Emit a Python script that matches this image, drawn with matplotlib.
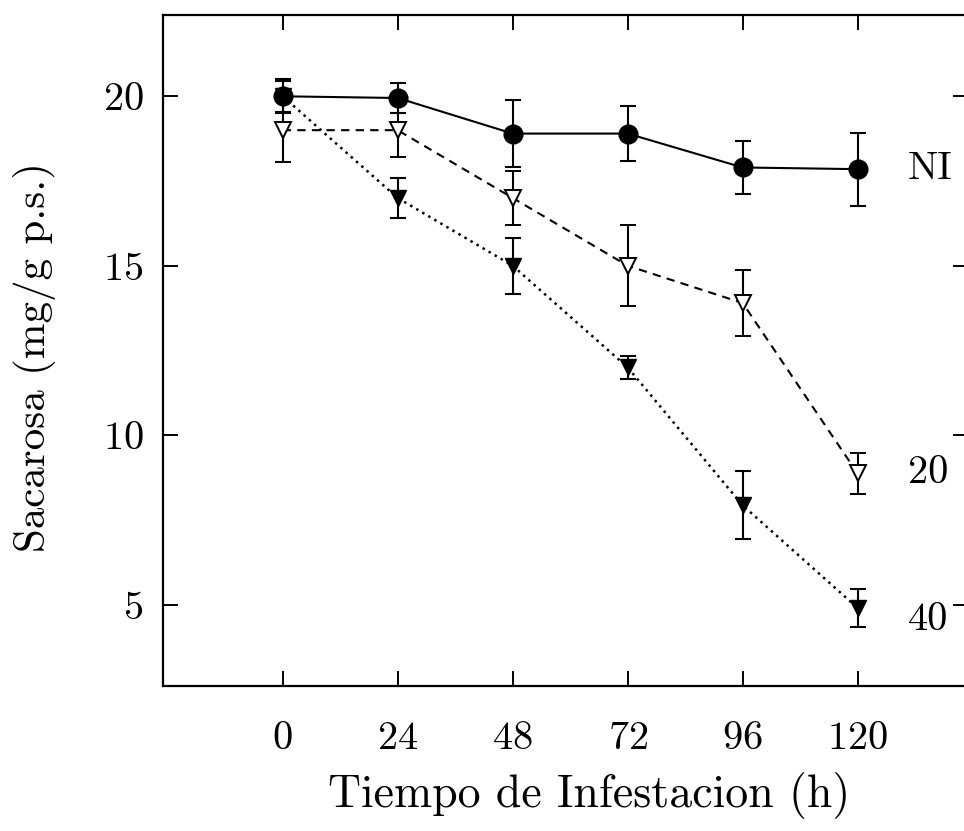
import matplotlib
matplotlib.use('Agg')
import matplotlib.pyplot as plt

plt.rcParams['font.family'] = ['cmr10', 'DejaVu Serif']
plt.rcParams['axes.formatter.use_mathtext'] = True
plt.rcParams['mathtext.fontset'] = 'cm'

# hours of infestation
hours = [0, 24, 48, 72, 96, 120]

# no infestation (NI)
ni_mean = [20.0, 19.95, 18.9, 18.9, 17.9, 17.85]
ni_err = [0.5, 0.45, 1.0, 0.8, 0.78, 1.08]

# 20 aphids
a20_mean = [19.0, 19.0, 17.0, 15.0, 13.9, 8.87]
a20_err = [0.95, 0.8, 0.8, 1.2, 0.98, 0.6]

# 40 aphids
a40_mean = [20.0, 17.0, 15.0, 12.0, 7.93, 4.9]
a40_err = [0.45, 0.6, 0.82, 0.33, 1.0, 0.57]

series_labels = ['NI', '20', '40']
label_y = [17.85, 8.87, 4.55]

xticks = [0, 24, 48, 72, 96, 120]
yticks = [5, 10, 15, 20]

fig = plt.figure(figsize=(9.64, 8.31), dpi=100)
ax = fig.add_axes([0.169, 0.1745, 0.835, 0.8075])

lw = 1.5
ax.errorbar(hours, a40_mean, yerr=a40_err, color='black', ls=':', lw=1.8,
            dashes=(1, 1.8), marker='v', ms=11, mfc='black', mec='black',
            capsize=6, elinewidth=lw, capthick=lw, zorder=2)
ax.errorbar(hours, a20_mean, yerr=a20_err, color='black', ls='--', lw=lw,
            dashes=(4, 3), marker='v', ms=11.5, mfc='white', mec='black',
            mew=1.4, capsize=6, elinewidth=lw, capthick=lw, zorder=3)
ax.errorbar(hours, ni_mean, yerr=ni_err, color='black', ls='-', lw=lw,
            marker='o', ms=13.5, mfc='black', mec='black',
            capsize=6, elinewidth=lw, capthick=lw, zorder=4)

for lab, yv in zip(series_labels, label_y):
    ax.text(130.5, yv, lab, fontsize=29, ha='left', va='center')

ax.set_xlim(-25, 143)
ax.set_ylim(2.6, 22.4)
ax.set_xticks(xticks)
ax.set_yticks(yticks)
ax.tick_params(axis='both', direction='in', length=11, width=1.4,
               labelsize=29, top=True, right=True)
ax.tick_params(axis='x', pad=25)
ax.tick_params(axis='y', pad=14)

for sp in ax.spines.values():
    sp.set_linewidth(1.6)

ax.set_xlabel('Tiempo de Infestacion (h)', fontsize=33)
ax.xaxis.label.set_va('center')
ax.xaxis.set_label_coords(0.53, -0.163)
ax.set_ylabel('Sacarosa (mg/g p.s.)', fontsize=31)
ax.yaxis.label.set(va='center', ha='center', rotation_mode='default')
ax.yaxis.set_label_coords(-0.159, 0.49)

fig.savefig('out.png', dpi=100)
